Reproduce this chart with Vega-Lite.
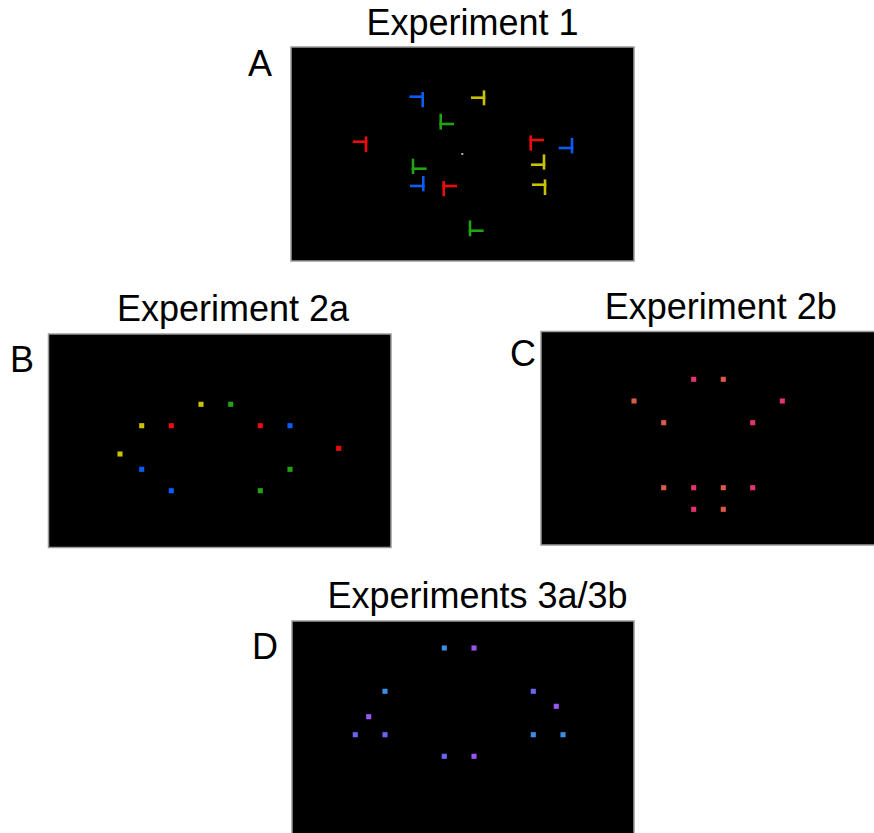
{
  "$schema": "https://vega.github.io/schema/vega-lite/v6.json",
  "width": 874,
  "height": 833,
  "padding": 0,
  "autosize": {"type": "none"},
  "background": "white",
  "config": {"view": {"stroke": null}},
  "datasets": {
    "panels": [
      {"panel": "A", "x": 291, "x2": 634, "y": 47, "y2": 261},
      {"panel": "B", "x": 48.5, "x2": 391, "y": 334, "y2": 547.5},
      {"panel": "C", "x": 541, "x2": 878, "y": 331.5, "y2": 545},
      {"panel": "D", "x": 292, "x2": 634, "y": 621, "y2": 838}
    ],
    "segments": [
      {"item": 1, "c": "blue", "x": 410.7, "y": 96.7, "x2": 422.7, "y2": 96.7},
      {"item": 1, "c": "blue", "x": 422.7, "y": 93.3, "x2": 422.7, "y2": 106},
      {"item": 2, "c": "yellow", "x": 472.3, "y": 97.7, "x2": 484, "y2": 97.7},
      {"item": 2, "c": "yellow", "x": 484, "y": 91.7, "x2": 484, "y2": 104},
      {"item": 3, "c": "green", "x": 440.7, "y": 115, "x2": 440.7, "y2": 128.3},
      {"item": 3, "c": "green", "x": 440.7, "y": 124, "x2": 452.7, "y2": 124},
      {"item": 4, "c": "red", "x": 354, "y": 141.7, "x2": 366, "y2": 141.7},
      {"item": 4, "c": "red", "x": 366, "y": 137.7, "x2": 366, "y2": 150.7},
      {"item": 5, "c": "red", "x": 530.7, "y": 136.7, "x2": 530.7, "y2": 149.3},
      {"item": 5, "c": "red", "x": 530.7, "y": 140, "x2": 542.7, "y2": 140},
      {"item": 6, "c": "blue", "x": 560, "y": 148, "x2": 572, "y2": 148},
      {"item": 6, "c": "blue", "x": 572, "y": 139.3, "x2": 572, "y2": 152},
      {"item": 7, "c": "green", "x": 413, "y": 160, "x2": 413, "y2": 172.7},
      {"item": 7, "c": "green", "x": 413, "y": 168.7, "x2": 425.3, "y2": 168.7},
      {"item": 8, "c": "yellow", "x": 532.3, "y": 164.7, "x2": 544, "y2": 164.7},
      {"item": 8, "c": "yellow", "x": 544, "y": 155.7, "x2": 544, "y2": 168.3},
      {"item": 9, "c": "blue", "x": 411.3, "y": 186, "x2": 423.3, "y2": 186},
      {"item": 9, "c": "blue", "x": 423.3, "y": 177.3, "x2": 423.3, "y2": 190},
      {"item": 10, "c": "red", "x": 443.7, "y": 182.3, "x2": 443.7, "y2": 195},
      {"item": 10, "c": "red", "x": 443.7, "y": 186, "x2": 455.7, "y2": 186},
      {"item": 11, "c": "yellow", "x": 533.3, "y": 184.7, "x2": 545, "y2": 184.7},
      {"item": 11, "c": "yellow", "x": 545, "y": 180.7, "x2": 545, "y2": 193.7},
      {"item": 12, "c": "green", "x": 470, "y": 221.7, "x2": 470, "y2": 235},
      {"item": 12, "c": "green", "x": 470, "y": 230.7, "x2": 482.3, "y2": 230.7}
    ],
    "squares": [
      {"panel": "B", "c": "yellow", "x": 201, "y": 404.3},
      {"panel": "B", "c": "green", "x": 230.7, "y": 404.3},
      {"panel": "B", "c": "yellow", "x": 141.7, "y": 425.7},
      {"panel": "B", "c": "red", "x": 171.3, "y": 425.7},
      {"panel": "B", "c": "red", "x": 260.3, "y": 425.7},
      {"panel": "B", "c": "blue", "x": 290, "y": 425.7},
      {"panel": "B", "c": "red", "x": 338.7, "y": 448.3},
      {"panel": "B", "c": "yellow", "x": 120, "y": 454},
      {"panel": "B", "c": "blue", "x": 141.7, "y": 469.3},
      {"panel": "B", "c": "green", "x": 290, "y": 469.3},
      {"panel": "B", "c": "blue", "x": 171.3, "y": 490.7},
      {"panel": "B", "c": "green", "x": 260.3, "y": 490.7},
      {"panel": "C", "c": "pink", "x": 693.7, "y": 379.3},
      {"panel": "C", "c": "coral", "x": 723.3, "y": 379.3},
      {"panel": "C", "c": "coral", "x": 634, "y": 401},
      {"panel": "C", "c": "pink", "x": 782.3, "y": 401},
      {"panel": "C", "c": "coral", "x": 663.7, "y": 422.7},
      {"panel": "C", "c": "pink", "x": 752.7, "y": 422.7},
      {"panel": "C", "c": "coral", "x": 663.7, "y": 487.7},
      {"panel": "C", "c": "pink", "x": 693.7, "y": 487.7},
      {"panel": "C", "c": "coral", "x": 723.3, "y": 487.7},
      {"panel": "C", "c": "pink", "x": 752.7, "y": 487.7},
      {"panel": "C", "c": "pink", "x": 693.7, "y": 509.3},
      {"panel": "C", "c": "coral", "x": 723.3, "y": 509.3},
      {"panel": "D", "c": "skyblue", "x": 444.3, "y": 648},
      {"panel": "D", "c": "purple", "x": 474, "y": 648},
      {"panel": "D", "c": "skyblue", "x": 385, "y": 691.3},
      {"panel": "D", "c": "periwinkle", "x": 533.3, "y": 691.3},
      {"panel": "D", "c": "purple", "x": 556.3, "y": 706.3},
      {"panel": "D", "c": "purple", "x": 368.7, "y": 716.7},
      {"panel": "D", "c": "periwinkle", "x": 355.3, "y": 734.7},
      {"panel": "D", "c": "periwinkle", "x": 385, "y": 734.7},
      {"panel": "D", "c": "skyblue", "x": 533.3, "y": 734.7},
      {"panel": "D", "c": "skyblue", "x": 563, "y": 734.7},
      {"panel": "D", "c": "periwinkle", "x": 444.3, "y": 756.3},
      {"panel": "D", "c": "purple", "x": 474, "y": 756.3}
    ],
    "fixation": [{"panel": "A", "x": 462.3, "y": 154}],
    "titles": [
      {"label": "Experiment 1", "x": 472.5, "y": 35},
      {"label": "Experiment 2a", "x": 233, "y": 320.7},
      {"label": "Experiment 2b", "x": 720.8, "y": 319.3},
      {"label": "Experiments 3a/3b", "x": 477.5, "y": 608.3}
    ],
    "letters": [
      {"label": "A", "x": 248, "y": 76},
      {"label": "B", "x": 10, "y": 372},
      {"label": "C", "x": 510, "y": 366},
      {"label": "D", "x": 252, "y": 659}
    ]
  },
  "layer": [
    {
      "data": {"name": "panels"},
      "mark": {"type": "rect", "fill": "black", "stroke": "#9a9a9a", "strokeWidth": 1.5},
      "encoding": {
        "x": {"field": "x", "type": "quantitative", "scale": {"domain": [0, 874], "nice": false, "zero": false}, "axis": null},
        "x2": {"field": "x2"},
        "y": {"field": "y", "type": "quantitative", "scale": {"domain": [0, 833], "nice": false, "zero": false, "reverse": true}, "axis": null},
        "y2": {"field": "y2"}
      }
    },
    {
      "data": {"name": "segments"},
      "mark": {"type": "rule", "strokeWidth": 2.6, "strokeCap": "square"},
      "encoding": {
        "x": {"field": "x", "type": "quantitative", "axis": null},
        "x2": {"field": "x2"},
        "y": {"field": "y", "type": "quantitative", "axis": null},
        "y2": {"field": "y2"},
        "color": {
          "field": "c", "type": "nominal", "legend": null,
          "scale": {
            "domain": ["red", "blue", "green", "yellow", "pink", "coral", "skyblue", "purple", "periwinkle"],
            "range": ["#ec0c0c", "#0a5cf5", "#22a214", "#c9c200", "#e2356f", "#dc5a48", "#3d8ee2", "#9a56f2", "#6966f0"]
          }
        }
      }
    },
    {
      "data": {"name": "squares"},
      "mark": {"type": "square", "size": 26, "opacity": 1, "filled": true},
      "encoding": {
        "x": {"field": "x", "type": "quantitative", "axis": null},
        "y": {"field": "y", "type": "quantitative", "axis": null},
        "color": {"field": "c", "type": "nominal", "legend": null}
      }
    },
    {
      "data": {"name": "fixation"},
      "mark": {"type": "square", "size": 4, "opacity": 1, "filled": true, "color": "#b0b0b0"},
      "encoding": {
        "x": {"field": "x", "type": "quantitative", "axis": null},
        "y": {"field": "y", "type": "quantitative", "axis": null}
      }
    },
    {
      "data": {"name": "titles"},
      "mark": {"type": "text", "font": "Liberation Sans", "fontSize": 36, "align": "center", "baseline": "alphabetic", "color": "black"},
      "encoding": {
        "x": {"field": "x", "type": "quantitative", "axis": null},
        "y": {"field": "y", "type": "quantitative", "axis": null},
        "text": {"field": "label"}
      }
    },
    {
      "data": {"name": "letters"},
      "mark": {"type": "text", "font": "Liberation Sans", "fontSize": 36, "align": "left", "baseline": "alphabetic", "color": "black"},
      "encoding": {
        "x": {"field": "x", "type": "quantitative", "axis": null},
        "y": {"field": "y", "type": "quantitative", "axis": null},
        "text": {"field": "label"}
      }
    }
  ]
}
